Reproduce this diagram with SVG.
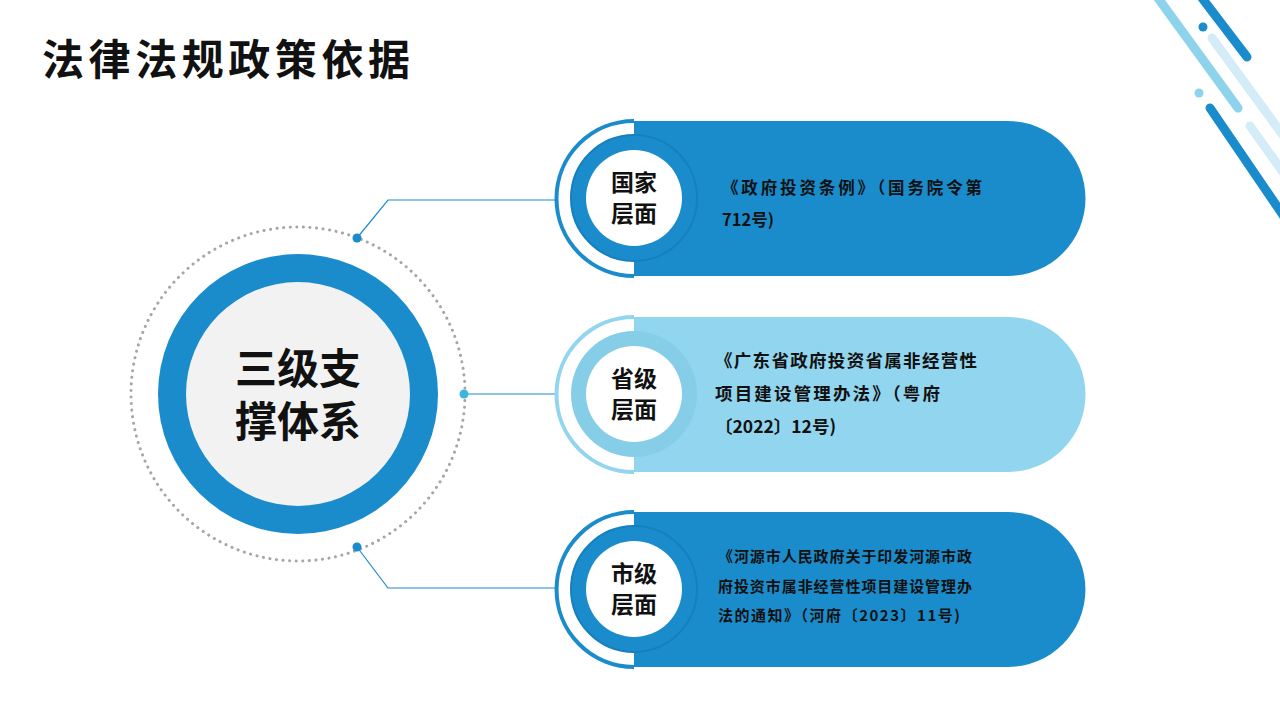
<svg xmlns="http://www.w3.org/2000/svg" width="1280" height="720" viewBox="0 0 1280 720">
<style>
.t{font-family:"Noto Sans CJK SC","Noto Sans",sans-serif;font-weight:bold;fill:#111}
.c{stroke:#1a8ccc;stroke-width:1.2;fill:none}
</style>
<rect width="1280" height="720" fill="#fff"/>
<g id="deco" stroke-linecap="round" fill="none">
<line x1="1158" y1="-2" x2="1238" y2="108" stroke="#8ed3ec" stroke-width="9"/>
<line x1="1202" y1="-2" x2="1247" y2="57" stroke="#1a8ccc" stroke-width="9"/>
<line x1="1212" y1="38" x2="1285" y2="138" stroke="#d3ecf7" stroke-width="9"/>
<line x1="1210" y1="108" x2="1285" y2="218" stroke="#1a8ccc" stroke-width="9"/>
<line x1="1250" y1="126" x2="1285" y2="175" stroke="#d3ecf7" stroke-width="9"/>
<circle cx="1203" cy="27" r="4.5" fill="#1a8ccc" stroke="none"/>
<circle cx="1199" cy="93" r="4.5" fill="#8ed3ec" stroke="none"/>
</g>
<text x="42" y="75" class="t" font-size="42" textLength="368" lengthAdjust="spacing">法律法规政策依据</text>
<g id="center">
<circle cx="298" cy="394" r="167" fill="none" stroke="#a6a6a6" stroke-width="3" stroke-dasharray="0.1 6.5" stroke-linecap="round"/>
<circle cx="298" cy="394" r="140" fill="#1a8ccc"/>
<circle cx="298" cy="394" r="112" fill="#f2f2f2"/>
<text x="298" y="384" class="t" font-size="42" text-anchor="middle">三级支</text>
<text x="298" y="437" class="t" font-size="42" text-anchor="middle">撑体系</text>
</g>
<g id="connectors">
<polyline class="c" points="357,238 388,200 557,200"/>
<line class="c" x1="464" y1="394" x2="557" y2="394"/>
<polyline class="c" points="357,547 388,588 557,588"/>
<circle cx="357" cy="238" r="4.5" fill="#1a8ccc"/>
<circle cx="464" cy="394" r="4.5" fill="#3cb6dc"/>
<circle cx="357" cy="547" r="4.5" fill="#1a8ccc"/>
</g>
<g id="n1">
<path d="M634 121 H1008 A77.5 77.5 0 0 1 1008 276 H634 Z" fill="#1a8ccc"/>
<path d="M634 121 A77.5 77.5 0 0 0 634 276" fill="none" stroke="#1a8ccc" stroke-width="4"/>
<circle cx="634" cy="198" r="63" fill="#1a8ccc" stroke="#1580bd" stroke-width="2"/>
<circle cx="634" cy="198" r="48" fill="#fff"/>
<text x="634" y="191" class="t" font-size="23" text-anchor="middle">国家</text>
<text x="634" y="222" class="t" font-size="23" text-anchor="middle">层面</text>
<text x="722" y="194" class="t" font-size="16.5" textLength="260" lengthAdjust="spacing">《政府投资条例》（国务院令第</text>
<text x="722" y="226" class="t" font-size="16.5">712号)</text>
</g>
<g id="n2">
<path d="M634 317 H1008 A77.5 77.5 0 0 1 1008 472 H634 Z" fill="#91d5ee"/>
<path d="M634 317 A77.5 77.5 0 0 0 634 472" fill="none" stroke="#91d5ee" stroke-width="4"/>
<circle cx="634" cy="394" r="63" fill="#86cde8"/>
<circle cx="634" cy="394" r="48" fill="#fff"/>
<text x="634" y="387" class="t" font-size="23" text-anchor="middle">省级</text>
<text x="634" y="418" class="t" font-size="23" text-anchor="middle">层面</text>
<text x="715" y="367" class="t" font-size="17.5" textLength="262" lengthAdjust="spacing">《广东省政府投资省属非经营性</text>
<text x="715" y="400" class="t" font-size="17.5" textLength="225" lengthAdjust="spacing">项目建设管理办法》（粤府</text>
<text x="715" y="433" class="t" font-size="17.5">〔2022〕12号)</text>
</g>
<g id="n3">
<path d="M634 512 H1008 A77.5 77.5 0 0 1 1008 667 H634 Z" fill="#1a8ccc"/>
<path d="M634 512 A77.5 77.5 0 0 0 634 667" fill="none" stroke="#1a8ccc" stroke-width="4"/>
<circle cx="634" cy="589" r="63" fill="#1a8ccc" stroke="#1580bd" stroke-width="2"/>
<circle cx="634" cy="589" r="48" fill="#fff"/>
<text x="634" y="582" class="t" font-size="23" text-anchor="middle">市级</text>
<text x="634" y="613" class="t" font-size="23" text-anchor="middle">层面</text>
<text x="718" y="562" class="t" font-size="15" textLength="254" lengthAdjust="spacing">《河源市人民政府关于印发河源市政</text>
<text x="718" y="592" class="t" font-size="15" textLength="254" lengthAdjust="spacing">府投资市属非经营性项目建设管理办</text>
<text x="718" y="621" class="t" font-size="15" textLength="242" lengthAdjust="spacing">法的通知》（河府〔2023〕11号)</text>
</g>
</svg>
